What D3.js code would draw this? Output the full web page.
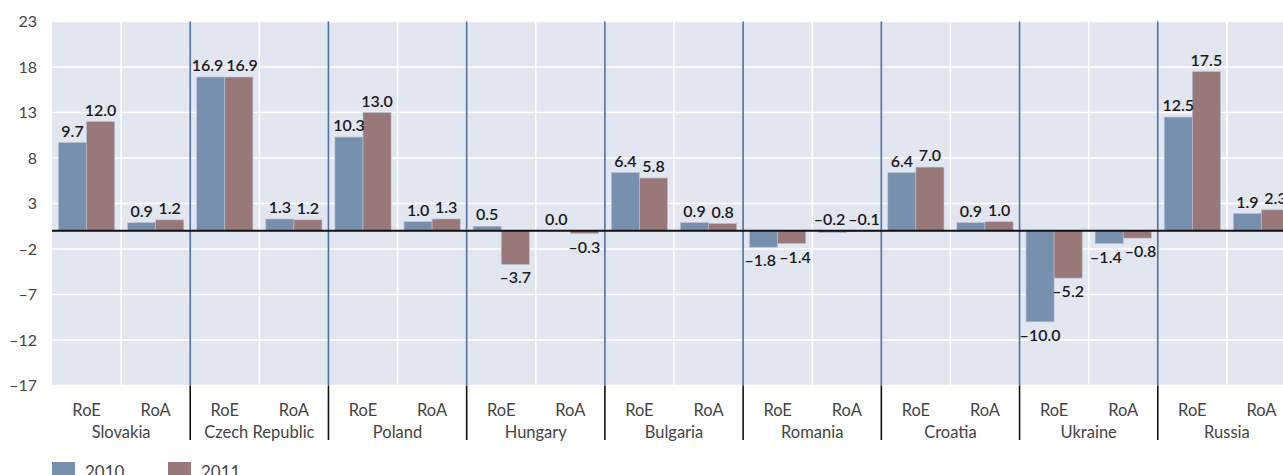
<!DOCTYPE html>
<html>
<head>
<meta charset="utf-8">
<script src="https://cdn.jsdelivr.net/npm/d3@7"></script>
<style>
  body { margin: 0; background: #fff; }
  svg { display: block; }
</style>
</head>
<body>
<div class="chart"></div>
<script>
var countries = ["Slovakia", "Czech Republic", "Poland", "Hungary", "Bulgaria", "Romania", "Croatia", "Ukraine", "Russia"];
var measures = ["RoE", "RoA"];
var years = ["2010", "2011"];
var roe2010 = [9.7, 16.9, 10.3, 0.5, 6.4, -1.8, 6.4, -10.0, 12.5];
var roe2011 = [12.0, 16.9, 13.0, -3.7, 5.8, -1.4, 7.0, -5.2, 17.5];
var roa2010 = [0.9, 1.3, 1.0, 0.0, 0.9, -0.2, 0.9, -1.4, 1.9];
var roa2011 = [1.2, 1.2, 1.3, -0.3, 0.8, -0.1, 1.0, -0.8, 2.3];
var yTicks = [23, 18, 13, 8, 3, -2, -7, -12, -17];

var width = 1283;
var height = 475;
var colors = { "2010": "#7790ad", "2011": "#987879" };

var svg = d3.select(".chart")
            .append("svg")
              .attr("width", width)
              .attr("height", height);

// plot runs past the right edge, the source image is cropped there
var plotLeft = 52, plotRight = 1296, plotTop = 21.5, plotBottom = 385.5;

var x0 = d3.scaleBand().domain(countries).range([plotLeft, plotRight]);
var x1 = d3.scaleBand().domain(measures).range([0, x0.bandwidth()]);
var x2 = d3.scaleBand().domain(years).range([0, x1.bandwidth()]).paddingInner(0).paddingOuter(0.23);
var y = d3.scaleLinear().domain([-17, 23]).range([plotBottom, plotTop]);

// flatten into bar records
var bars = [];
countries.forEach(function(c, i) {
  bars.push({ c: c, m: "RoE", yr: "2010", v: roe2010[i] });
  bars.push({ c: c, m: "RoE", yr: "2011", v: roe2011[i] });
  bars.push({ c: c, m: "RoA", yr: "2010", v: roa2010[i] });
  bars.push({ c: c, m: "RoA", yr: "2011", v: roa2011[i] });
});

var axisFont = "Lato, sans-serif";

// background
svg.append("rect")
  .attr("x", plotLeft).attr("y", plotTop)
  .attr("width", plotRight - plotLeft).attr("height", plotBottom - plotTop)
  .attr("fill", "#e2e6f0");

// horizontal grid
svg.selectAll("line.hgrid")
  .data(yTicks)
  .enter()
  .append("line")
  .attr("class", "hgrid")
  .attr("x1", plotLeft).attr("x2", plotRight)
  .attr("y1", function(d) { return y(d); })
  .attr("y2", function(d) { return y(d); })
  .attr("stroke", "#fff")
  .attr("stroke-width", 1.5);

// vertical grid between RoE and RoA
svg.selectAll("line.vgrid")
  .data(countries)
  .enter()
  .append("line")
  .attr("class", "vgrid")
  .attr("x1", function(d) { return x0(d) + x1("RoA"); })
  .attr("x2", function(d) { return x0(d) + x1("RoA"); })
  .attr("y1", plotTop).attr("y2", plotBottom)
  .attr("stroke", "#fff")
  .attr("stroke-width", 1.5);

// y tick labels
svg.selectAll("text.ytick")
  .data(yTicks)
  .enter()
  .append("text")
  .attr("class", "ytick")
  .attr("x", 37)
  .attr("y", function(d) { return y(d) + 5.5; })
  .attr("text-anchor", "end")
  .attr("font-family", axisFont)
  .attr("font-size", "16px")
  .attr("fill", "#444")
  .text(function(d) { return d < 0 ? "\u2013" + Math.abs(d) : d; });

// bars
svg.selectAll("rect.bar")
  .data(bars)
  .enter()
  .append("rect")
  .attr("class", "bar")
  .attr("x", function(d) { return x0(d.c) + x1(d.m) + x2(d.yr); })
  .attr("y", function(d) { return y(Math.max(0, d.v)); })
  .attr("width", x2.bandwidth())
  .attr("height", function(d) { return Math.abs(y(d.v) - y(0)); })
  .attr("fill", function(d) { return colors[d.yr]; })
  .attr("stroke", "#b9c2d2")
  .attr("stroke-width", 0.6);

// group separators: blue inside the plot, black below it
var seps = countries.slice(1);
svg.selectAll("line.sep")
  .data(seps)
  .enter()
  .append("line")
  .attr("class", "sep")
  .attr("x1", function(d) { return x0(d); })
  .attr("x2", function(d) { return x0(d); })
  .attr("y1", plotTop).attr("y2", plotBottom)
  .attr("stroke", "#4f74a0")
  .attr("stroke-width", 1.6);

svg.selectAll("line.sepbelow")
  .data(seps)
  .enter()
  .append("line")
  .attr("class", "sepbelow")
  .attr("x1", function(d) { return x0(d); })
  .attr("x2", function(d) { return x0(d); })
  .attr("y1", plotBottom).attr("y2", 440)
  .attr("stroke", "#111")
  .attr("stroke-width", 1.6);

// zero line
svg.append("line")
  .attr("x1", plotLeft).attr("x2", plotRight)
  .attr("y1", y(0)).attr("y2", y(0))
  .attr("stroke", "#111")
  .attr("stroke-width", 2);

// value labels
function fmt(v) {
  return v < 0 ? "\u2013" + Math.abs(v).toFixed(1) : v.toFixed(1);
}
function labelY(d) {
  if (d.v >= -0.2) return y(Math.max(0, d.v)) - 6;
  return y(d.v) + 19;
}
var vals = svg.selectAll("text.val")
  .data(bars)
  .enter()
  .append("text")
  .attr("class", "val")
  .attr("x", function(d) { return x0(d.c) + x1(d.m) + x2(d.yr) + x2.bandwidth() / 2; })
  .attr("y", labelY)
  .attr("text-anchor", "middle")
  .attr("font-family", "Lato, sans-serif")
  .attr("font-size", "16px")
  .attr("font-weight", 600)
  .attr("fill", "#1a1a1a")
  .text(function(d) { return fmt(d.v); });

// push apart pairs of labels that sit on the same line and collide
var nodes = vals.nodes();
for (var i = 0; i < nodes.length; i += 2) {
  var a = nodes[i], b = nodes[i + 1];
  if (Math.abs(labelY(bars[i]) - labelY(bars[i + 1])) > 12) continue;
  var ax = +a.getAttribute("x"), bx = +b.getAttribute("x");
  var overlap = (ax + a.getComputedTextLength() / 2 + 3) - (bx - b.getComputedTextLength() / 2);
  if (overlap > 0) {
    a.setAttribute("x", ax - overlap / 2);
    b.setAttribute("x", bx + overlap / 2);
  }
}

// measure labels
var sub = [];
countries.forEach(function(c) { measures.forEach(function(m) { sub.push({ c: c, m: m }); }); });
svg.selectAll("text.meas")
  .data(sub)
  .enter()
  .append("text")
  .attr("class", "meas")
  .attr("x", function(d) { return x0(d.c) + x1(d.m) + x1.bandwidth() / 2; })
  .attr("y", 416)
  .attr("text-anchor", "middle")
  .attr("font-family", axisFont)
  .attr("font-size", "16.5px")
  .attr("fill", "#444")
  .text(function(d) { return d.m; });

// country labels
svg.selectAll("text.country")
  .data(countries)
  .enter()
  .append("text")
  .attr("class", "country")
  .attr("x", function(d) { return x0(d) + x0.bandwidth() / 2; })
  .attr("y", 438)
  .attr("text-anchor", "middle")
  .attr("font-family", axisFont)
  .attr("font-size", "16.5px")
  .attr("fill", "#444")
  .text(function(d) { return d; });

// legend (cut off at the bottom in the source)
var legend = svg.selectAll("g.legend")
  .data(years)
  .enter()
  .append("g")
  .attr("class", "legend")
  .attr("transform", function(d, i) { return "translate(" + (52 + i * 116) + ",0)"; });

legend.append("rect")
  .attr("x", 0).attr("y", 462)
  .attr("width", 23).attr("height", 14)
  .attr("fill", function(d) { return colors[d]; });

legend.append("text")
  .attr("x", 33).attr("y", 478)
  .attr("font-family", axisFont)
  .attr("font-size", "17px")
  .attr("fill", "#444")
  .text(function(d) { return d; });
</script>
</body>
</html>
